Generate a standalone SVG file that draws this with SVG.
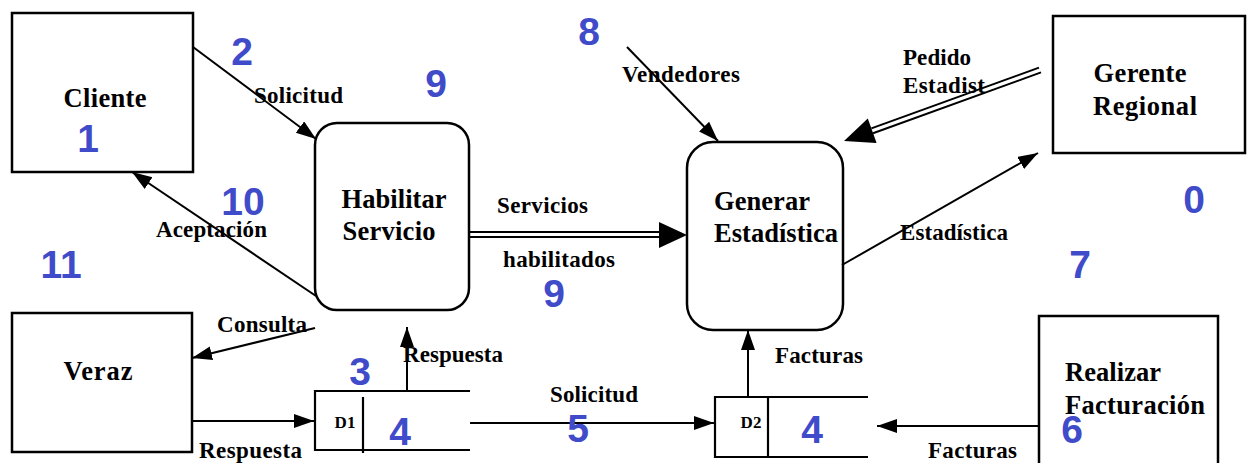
<svg xmlns="http://www.w3.org/2000/svg" width="1248" height="463" viewBox="0 0 1248 463">
  <style>
    .box { fill: #fff; stroke: #000; stroke-width: 2.5; }
    .proc { fill: #fff; stroke: #000; stroke-width: 2.5; }
    .flow { fill: none; stroke: #000; stroke-width: 2; }
    .dbl { fill: none; stroke: #000; stroke-width: 2; }
    .store { fill: none; stroke: #000; stroke-width: 2.2; }
    .head { fill: #000; }
    .node { font-family: "Liberation Serif", "Times New Roman", serif; font-weight: bold; font-size: 26.5px; fill: #000; }
    .lbl { font-family: "Liberation Serif", "Times New Roman", serif; font-weight: bold; font-size: 23px; fill: #000; }
    .ds { font-family: "Liberation Serif", "Times New Roman", serif; font-weight: bold; font-size: 17px; fill: #000; }
    .num { font-family: "Liberation Sans", Arial, sans-serif; font-weight: bold; font-size: 39px; fill: #3F4BC9; }
  </style>
  <defs>
    <marker id="arrow" markerUnits="userSpaceOnUse" markerWidth="22" markerHeight="16" refX="20" refY="7" orient="auto">
      <path d="M0,0 L20,7 L0,14 z" fill="#000"/>
    </marker>
  </defs>

  <!-- external entities -->
  <g id="cliente">
    <rect class="box" x="12" y="13" width="181" height="159"/>
    <text class="node" x="105" y="107" text-anchor="middle" textLength="83">Cliente</text>
  </g>
  <g id="gerente-regional">
    <rect class="box" x="1053" y="16" width="192" height="137"/>
    <text class="node" x="1140" y="82" text-anchor="middle" textLength="93">Gerente</text>
    <text class="node" x="1145" y="115" text-anchor="middle" textLength="104">Regional</text>
  </g>
  <g id="veraz">
    <rect class="box" x="12" y="313" width="180" height="139"/>
    <text class="node" x="98" y="380" text-anchor="middle" textLength="69">Veraz</text>
  </g>
  <g id="realizar-facturacion">
    <rect class="box" x="1039" y="316" width="179" height="160"/>
    <text class="node" x="1065" y="381" textLength="96">Realizar</text>
    <text class="node" x="1065" y="414" textLength="140">Facturación</text>
  </g>

  <!-- processes -->
  <g id="habilitar-servicio">
    <rect class="proc" x="315" y="123" width="154" height="187" rx="22"/>
    <text class="node" x="394" y="208" text-anchor="middle" textLength="105">Habilitar</text>
    <text class="node" x="389" y="240" text-anchor="middle" textLength="93">Servicio</text>
  </g>
  <g id="generar-estadistica">
    <rect class="proc" x="687" y="142" width="156" height="188" rx="26"/>
    <text class="node" x="714" y="210" textLength="96">Generar</text>
    <text class="node" x="714" y="242" textLength="124">Estadística</text>
  </g>

  <!-- data stores -->
  <g id="d1">
    <polyline class="store" points="470,391 315,391 315,450 470,450"/>
    <line class="store" x1="363" y1="397" x2="363" y2="453"/>
    <text class="ds" x="345" y="428" text-anchor="middle">D1</text>
  </g>
  <g id="d2">
    <polyline class="store" points="868,397 715,397 715,457 868,457"/>
    <line class="store" x1="768" y1="397" x2="768" y2="457"/>
    <text class="ds" x="751" y="428" text-anchor="middle">D2</text>
  </g>

  <!-- data flows -->
  <g id="connectors">
    <line class="flow" x1="193" y1="47" x2="316" y2="139" marker-end="url(#arrow)"/>
    <line class="flow" x1="316" y1="296" x2="132" y2="172" marker-end="url(#arrow)"/>
    <line class="flow" x1="627" y1="47" x2="718" y2="141" marker-end="url(#arrow)"/>
    <line class="flow" x1="842" y1="265" x2="1038" y2="153" marker-end="url(#arrow)"/>
    <line class="flow" x1="315" y1="328" x2="192" y2="358" marker-end="url(#arrow)"/>
    <line class="flow" x1="192" y1="421" x2="314" y2="421" marker-end="url(#arrow)"/>
    <line class="flow" x1="407" y1="391" x2="407" y2="327" marker-end="url(#arrow)"/>
    <line class="flow" x1="470" y1="423" x2="714" y2="423" marker-end="url(#arrow)"/>
    <line class="flow" x1="748" y1="397" x2="748" y2="330" marker-end="url(#arrow)"/>
    <line class="flow" x1="1039" y1="426" x2="877" y2="426" marker-end="url(#arrow)"/>

    <!-- double-line flows -->
    <line class="dbl" x1="470" y1="232" x2="662" y2="232"/>
    <line class="dbl" x1="470" y1="237" x2="662" y2="237"/>
    <polygon class="head" points="659,222 687,235 659,248"/>

    <line class="dbl" x1="1041" y1="72.4" x2="873" y2="133.2"/>
    <line class="dbl" x1="1039" y1="67.6" x2="871.4" y2="128.4"/>
    <polygon class="head" points="844,141 876.6,143 867.8,118.6"/>
  </g>

  <!-- flow labels -->
  <g id="labels">
    <text class="lbl" x="254" y="103" textLength="89">Solicitud</text>
    <text class="lbl" x="156" y="237" textLength="111">Aceptación</text>
    <text class="lbl" x="622" y="82" textLength="118">Vendedores</text>
    <text class="lbl" x="497" y="213" textLength="91">Servicios</text>
    <text class="lbl" x="503" y="267" textLength="112">habilitados</text>
    <text class="lbl" x="903" y="65" textLength="68">Pedido</text>
    <text class="lbl" x="903" y="93" textLength="82">Estadist</text>
    <text class="lbl" x="900" y="240" textLength="108">Estadística</text>
    <text class="lbl" x="217" y="332" textLength="90">Consulta</text>
    <text class="lbl" x="403" y="362" textLength="100">Respuesta</text>
    <text class="lbl" x="199" y="458" textLength="103">Respuesta</text>
    <text class="lbl" x="550" y="402" textLength="88">Solicitud</text>
    <text class="lbl" x="775" y="363" textLength="88">Facturas</text>
    <text class="lbl" x="928" y="458" textLength="89">Facturas</text>
  </g>

  <!-- numbering marks -->
  <g id="numbers">
    <text class="num" x="88" y="152" text-anchor="middle">1</text>
    <text class="num" x="242" y="65" text-anchor="middle">2</text>
    <text class="num" x="436" y="97" text-anchor="middle">9</text>
    <text class="num" x="243" y="215" text-anchor="middle">10</text>
    <text class="num" x="61" y="278" text-anchor="middle">11</text>
    <text class="num" x="589" y="45" text-anchor="middle">8</text>
    <text class="num" x="554" y="307" text-anchor="middle">9</text>
    <text class="num" x="1194" y="213" text-anchor="middle">0</text>
    <text class="num" x="1080" y="278" text-anchor="middle">7</text>
    <text class="num" x="360" y="385" text-anchor="middle">3</text>
    <text class="num" x="400" y="445" text-anchor="middle">4</text>
    <text class="num" x="578" y="442" text-anchor="middle">5</text>
    <text class="num" x="812" y="443" text-anchor="middle">4</text>
    <text class="num" x="1072" y="443" text-anchor="middle">6</text>
  </g>
</svg>
